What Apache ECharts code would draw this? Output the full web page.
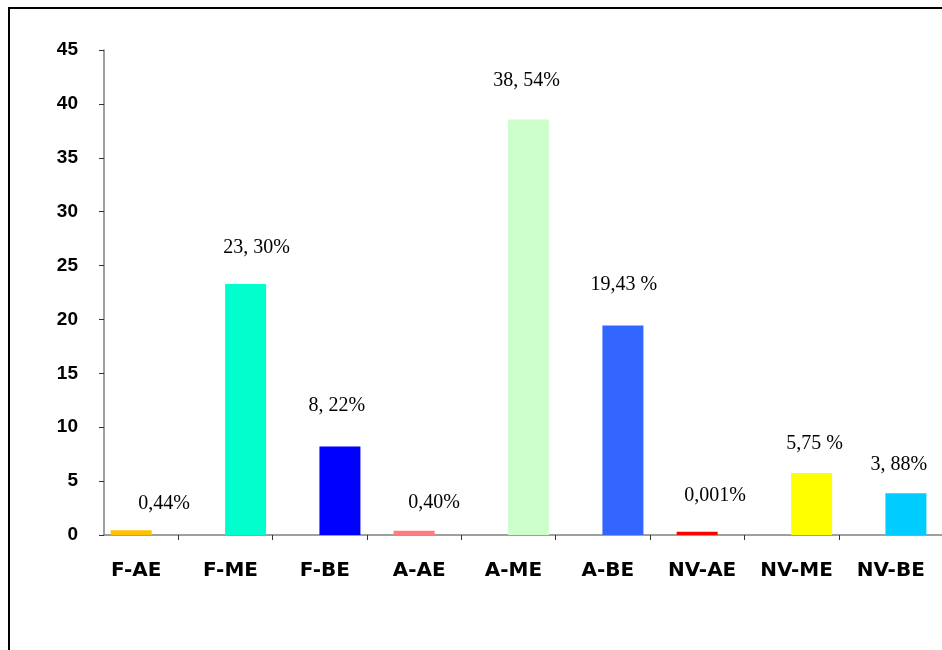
<!DOCTYPE html>
<html>
<head>
<meta charset="utf-8">
<script src="https://cdn.jsdelivr.net/npm/echarts@6/dist/echarts.min.js"></script>
<style>
  html, body { margin: 0; padding: 0; background: #fff; }
  #frame { position: absolute; left: 8px; top: 7px; width: 960px; height: 700px;
           border-left: 2px solid #000; border-top: 2px solid #000; }
  #chart { position: absolute; left: 0; top: 0; width: 942px; height: 650px; }
</style>
</head>
<body>
<div id="frame"></div>
<div id="chart"></div>
<script>
// ---- data ----
const categories = ['F-AE', 'F-ME', 'F-BE', 'A-AE', 'A-ME', 'A-BE', 'NV-AE', 'NV-ME', 'NV-BE'];
const values = [0.44, 23.30, 8.22, 0.40, 38.54, 19.43, 0.3, 5.75, 3.88];
const valueLabels = ['0,44%', '23, 30%', '8, 22%', '0,40%', '38, 54%', '19,43 %', '0,001%', '5,75 %', '3, 88%'];
const yTicks = [0, 5, 10, 15, 20, 25, 30, 35, 40, 45];

// ---- styles ----
const barColors = ['#FFC000', '#00FFCC', '#0000FF', '#FF7C80', '#CCFFCC', '#3366FF', '#FF0000', '#FFFF00', '#00CCFF'];
const labelOffsets = [[33, 0], [11, -9], [-3, -14], [20, -1], [-2, -12], [1, -14], [18, -9], [3, -2], [-7, -1]];

const isAE = categories.map(c => /-AE$/.test(c));
function mk(filterAE) {
  return values.map((v, i) => {
    if (isAE[i] !== filterAE) return null;
    return {
      value: v,
      itemStyle: { color: barColors[i] },
      label: { formatter: valueLabels[i], offset: labelOffsets[i] }
    };
  });
}

const labelStyle = {
  show: true, position: 'top', distance: 17,
  fontFamily: 'Liberation Serif', fontSize: 20, color: '#000'
};

const chart = echarts.init(document.getElementById('chart'));
const gTop = 50, gBottom = 115;
chart.setOption({
  animation: false,
  backgroundColor: 'transparent',
  grid: [
    { left: 84, right: 9, top: gTop, bottom: gBottom },
    { left: 104, right: 0, top: gTop, bottom: gBottom },
    { left: 130.85, right: 55.85, top: gTop, bottom: gBottom }
  ],
  xAxis: [
    { type: 'category', gridIndex: 0, data: categories,
      axisLine: { show: false }, axisTick: { show: false },
      axisLabel: { fontFamily: 'DejaVu Sans', fontWeight: 'bold', fontSize: 20, color: '#000',
                   margin: 26, padding: [0, 0, 0, 10], interval: 0 } },
    { type: 'category', gridIndex: 1, data: [''],
      axisLine: { show: true, lineStyle: { color: '#808080', width: 1.5 } },
      axisTick: { show: false }, axisLabel: { show: false } },
    { type: 'category', gridIndex: 2, data: categories.slice(1).map(() => ''),
      axisLine: { show: false },
      axisTick: { show: true, alignWithLabel: true, length: 5, lineStyle: { color: '#333', width: 1 } },
      axisLabel: { show: false } }
  ],
  yAxis: [
    { type: 'value', gridIndex: 0, min: yTicks[0], max: yTicks[yTicks.length - 1], interval: 5, show: false },
    { type: 'value', gridIndex: 1, min: yTicks[0], max: yTicks[yTicks.length - 1], interval: 5,
      axisLine: { show: true, lineStyle: { color: '#808080', width: 1.5 } },
      axisTick: { show: true, length: 5, lineStyle: { color: '#333', width: 1 } },
      splitLine: { show: false },
      axisLabel: { fontFamily: 'Liberation Sans', fontWeight: 'bold', fontSize: 19, color: '#000', margin: 26 } },
    { type: 'value', gridIndex: 2, min: 0, max: 45, show: false }
  ],
  series: [
    { type: 'bar', xAxisIndex: 0, yAxisIndex: 0, barWidth: 41, barGap: '-51%',
      data: values.map(() => null) },
    { type: 'bar', xAxisIndex: 0, yAxisIndex: 0, barWidth: 41, barGap: '-51%',
      label: labelStyle, data: mk(true) },
    { type: 'bar', xAxisIndex: 0, yAxisIndex: 0, barWidth: 41, barGap: '-51%',
      label: labelStyle, data: mk(false) }
  ]
});
</script>
</body>
</html>
